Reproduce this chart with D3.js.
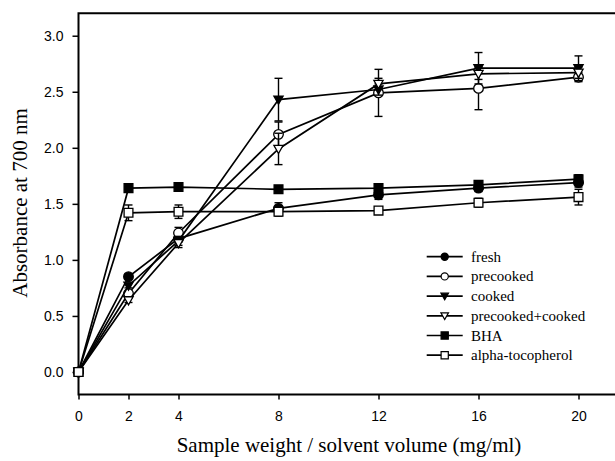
<!DOCTYPE html>
<html>
<head>
<meta charset="utf-8">
<script src="https://cdn.jsdelivr.net/npm/d3@7"></script>
<style>
  body { margin: 0; background: #fff; }
  svg { display: block; }
  .tick text { font-family: "Liberation Sans", Arial, sans-serif; font-size: 14px; fill: #000; }
  .title { font-family: "Liberation Serif", "Times New Roman", serif; font-size: 21px; fill: #000; }
  .legend text { font-family: "Liberation Serif", "Times New Roman", serif; font-size: 15px; fill: #000; }
</style>
</head>
<body>
<svg id="chart" width="615" height="461"></svg>
<script>
  // sample weight / solvent volume (mg/ml)
  var concentrations = [0, 2, 4, 8, 12, 16, 20];

  var seriesNames = ["fresh", "precooked", "cooked", "precooked+cooked", "BHA", "alpha-tocopherol"];
  var seriesShapes = ["circle", "circle", "triangle", "triangle", "square", "square"];
  var seriesFilled = [true, false, true, false, true, false];

  var fresh = [0, 0.85, 1.19, 1.46, 1.58, 1.64, 1.69];
  var precooked = [0, 0.70, 1.24, 2.12, 2.49, 2.53, 2.63];
  var cooked = [0, 0.77, 1.17, 2.43, 2.52, 2.71, 2.71];
  var precookedCooked = [0, 0.64, 1.15, 1.99, 2.57, 2.66, 2.67];
  var bha = [0, 1.64, 1.65, 1.63, 1.64, 1.67, 1.72];
  var tocopherol = [0, 1.42, 1.43, 1.43, 1.44, 1.51, 1.56];

  // standard deviations
  var freshErr = [0, 0.02, 0.03, 0.05, 0.04, 0.03, 0.04];
  var precookedErr = [0, 0.02, 0.05, 0.11, 0.21, 0.19, 0.04];
  var cookedErr = [0, 0.02, 0.04, 0.19, 0.05, 0.14, 0.11];
  var precookedCookedErr = [0, 0.02, 0.04, 0.14, 0.05, 0.05, 0.05];
  var bhaErr = [0, 0.01, 0.01, 0.01, 0.03, 0.02, 0.04];
  var tocopherolErr = [0, 0.07, 0.06, 0.04, 0.03, 0.04, 0.07];

  var xTicks = [0, 2, 4, 8, 12, 16, 20];
  var yTicks = [0, 0.5, 1.0, 1.5, 2.0, 2.5, 3.0];

(function (d3) {
  'use strict';

  var values = [fresh, precooked, cooked, precookedCooked, bha, tocopherol];
  var errors = [freshErr, precookedErr, cookedErr, precookedCookedErr, bhaErr, tocopherolErr];

  var svg = d3.select("#chart");

  var plotLeft = 78.5, plotTop = 13.3, plotBottom = 394.4;

  var x = d3.scaleLinear().domain([0, 22]).range([plotLeft, plotLeft + 22 * 25]);
  var y = d3.scaleLinear().domain([-0.2, 3.2]).range([plotBottom, plotTop]);

  // frame: left axis, bottom axis, top border (right side runs off the picture)
  svg.append("path")
    .attr("d", "M" + x.range()[1] + "," + plotTop + "H" + plotLeft + "V" + plotBottom + "H" + x.range()[1])
    .attr("fill", "none")
    .attr("stroke", "#000")
    .attr("stroke-width", 2);

  var xAxis = svg.append("g")
    .attr("transform", "translate(0," + plotBottom + ")")
    .call(d3.axisBottom(x).tickValues(xTicks).tickFormat(d3.format("d")).tickSize(5).tickPadding(12));
  xAxis.select(".domain").remove();
  xAxis.selectAll(".tick line").attr("stroke-width", 1.5);

  var yAxis = svg.append("g")
    .attr("transform", "translate(" + plotLeft + ",0)")
    .call(d3.axisLeft(y).tickValues(yTicks).tickFormat(d3.format(".1f")).tickSize(6).tickPadding(9));
  yAxis.select(".domain").remove();
  yAxis.selectAll(".tick line").attr("stroke-width", 1.5);

  svg.append("text")
    .attr("class", "title")
    .attr("x", 349)
    .attr("y", 452)
    .attr("text-anchor", "middle")
    .text("Sample weight / solvent volume (mg/ml)");

  svg.append("text")
    .attr("class", "title")
    .attr("transform", "translate(27,203) rotate(-90)")
    .attr("text-anchor", "middle")
    .text("Absorbance at 700 nm");

  var markerPath = function (shape, s) {
    if (shape === "circle") {
      return "M" + (-s) + ",0A" + s + "," + s + " 0 1,0 " + s + ",0A" + s + "," + s + " 0 1,0 " + (-s) + ",0Z";
    }
    if (shape === "square") {
      return "M" + (-s) + "," + (-s) + "H" + s + "V" + s + "H" + (-s) + "Z";
    }
    return "M" + (-s * 1.05) + "," + (-s * 0.8) + "H" + (s * 1.05) + "L0," + (s * 1.05) + "Z";
  };

  var line = d3.line()
    .x(function (d) { return x(d[0]); })
    .y(function (d) { return y(d[1]); });

  for (var i = 0; i < values.length; i++) {
    var pts = concentrations.map(function (c, j) { return [c, values[i][j], errors[i][j]]; });
    var g = svg.append("g");

    g.append("path")
      .datum(pts)
      .attr("d", line)
      .attr("fill", "none")
      .attr("stroke", "#000")
      .attr("stroke-width", 1.7);

    var bars = g.selectAll(".err")
      .data(pts.filter(function (d) { return d[2] > 0; }))
      .enter().append("g")
      .attr("stroke", "#000")
      .attr("stroke-width", 1.4);
    bars.append("line")
      .attr("x1", function (d) { return x(d[0]); })
      .attr("x2", function (d) { return x(d[0]); })
      .attr("y1", function (d) { return y(d[1] - d[2]); })
      .attr("y2", function (d) { return y(d[1] + d[2]); });
    bars.append("line")
      .attr("x1", function (d) { return x(d[0]) - 4; })
      .attr("x2", function (d) { return x(d[0]) + 4; })
      .attr("y1", function (d) { return y(d[1] + d[2]); })
      .attr("y2", function (d) { return y(d[1] + d[2]); });
    bars.append("line")
      .attr("x1", function (d) { return x(d[0]) - 4; })
      .attr("x2", function (d) { return x(d[0]) + 4; })
      .attr("y1", function (d) { return y(d[1] - d[2]); })
      .attr("y2", function (d) { return y(d[1] - d[2]); });

    g.selectAll(".mark")
      .data(pts)
      .enter().append("path")
      .attr("transform", function (d) { return "translate(" + x(d[0]) + "," + y(d[1]) + ")"; })
      .attr("d", markerPath(seriesShapes[i], seriesShapes[i] === "circle" ? 4.8 : 4.4))
      .attr("fill", seriesFilled[i] ? "#000" : "#fff")
      .attr("stroke", "#000")
      .attr("stroke-width", 1.3);
  }

  // legend
  var legend = svg.append("g").attr("class", "legend");
  seriesNames.forEach(function (name, i) {
    var ry = 256.7 + i * 19.7;
    legend.append("line")
      .attr("x1", 426.7).attr("x2", 462.7)
      .attr("y1", ry).attr("y2", ry)
      .attr("stroke", "#000").attr("stroke-width", 1.7);
    legend.append("path")
      .attr("transform", "translate(444.7," + ry + ")")
      .attr("d", markerPath(seriesShapes[i], 3.6))
      .attr("fill", seriesFilled[i] ? "#000" : "#fff")
      .attr("stroke", "#000")
      .attr("stroke-width", 1.2);
    legend.append("text")
      .attr("x", 471)
      .attr("y", ry + 5)
      .text(name);
  });
})(d3);
</script>
</body>
</html>
